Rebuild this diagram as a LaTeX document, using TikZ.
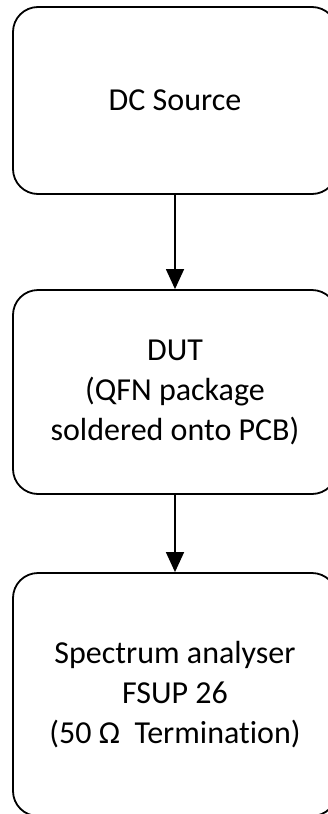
\documentclass[tikz,border=0pt]{standalone}
\usepackage{fontspec}
\setmainfont[Ligatures=NoCommon]{Carlito}
\usetikzlibrary{arrows.meta}

\tikzset{
	blockbox/.style={draw, line width=1.8pt, rounded corners=25pt, minimum width=324pt, align=center, font=\fontsize{32}{40}\selectfont},
	flowarrow/.style={line width=1.4pt, -{Triangle[width=18pt, length=20pt]}}
}

\begin{document}
\begin{tikzpicture}[x=1pt, y=-1pt]
	% Frame and blocks:
	\clip (0, 0) rectangle (328, 814);
	\node[blockbox, minimum height=187pt] (dcsource) at (175, 100.5){DC Source};
	\node[blockbox, minimum height=204pt] (dut) at (175, 392){DUT\\(QFN package\\soldered onto PCB)};
	\node[blockbox, minimum height=243pt] (analyser) at (175, 694.5){Spectrum analyser\\FSUP 26\\(50 Ω\ \ Termination)};
	% Connections:
	\draw[flowarrow] (dcsource.south) -- (dut.north);
	\draw[flowarrow] (dut.south) -- (analyser.north);
\end{tikzpicture}
\end{document}
